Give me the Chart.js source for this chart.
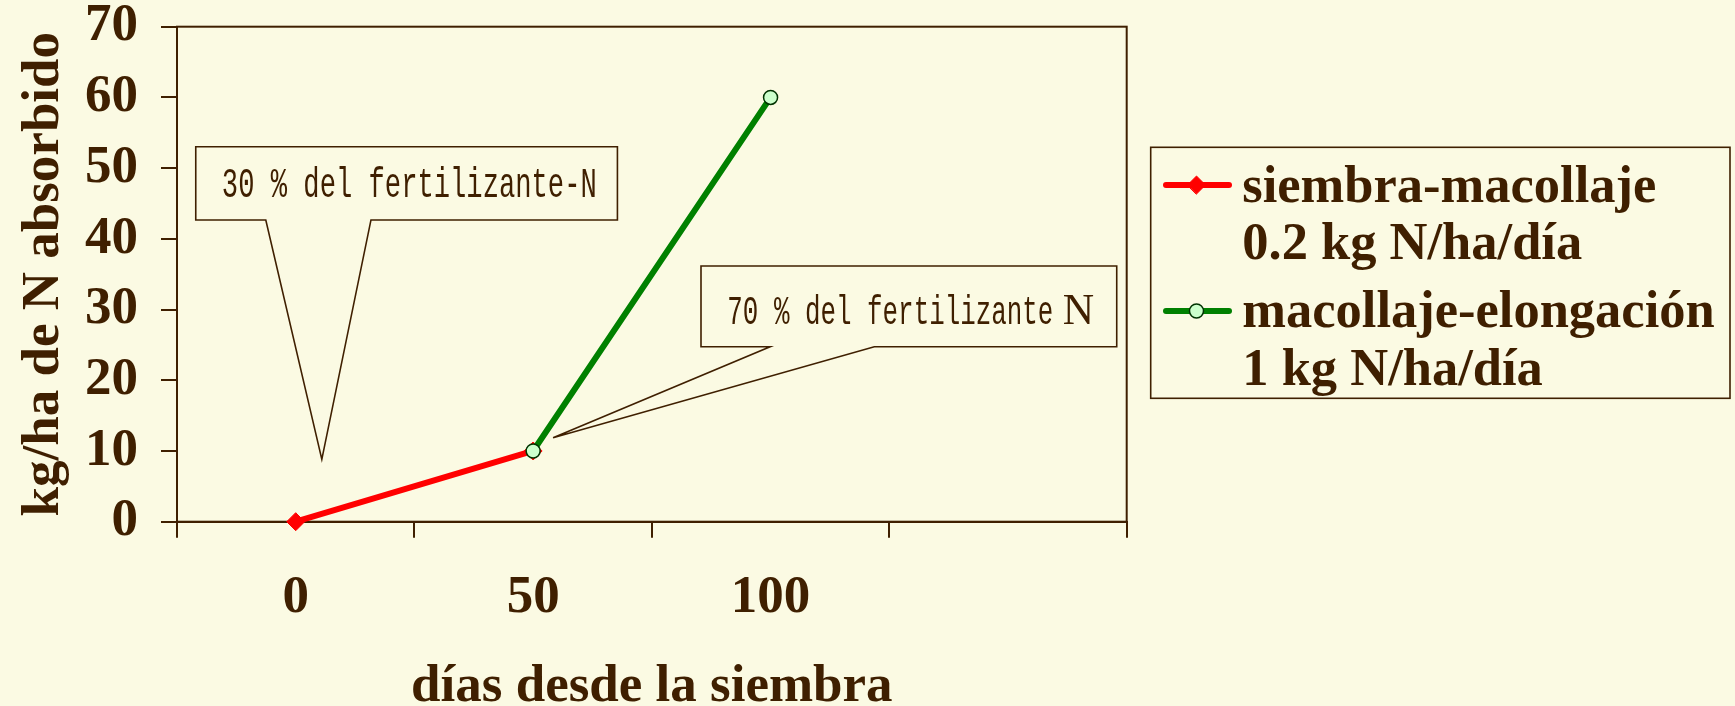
<!DOCTYPE html>
<html>
<head>
<meta charset="utf-8">
<script src="https://cdn.jsdelivr.net/npm/chart.js@4.4.0/dist/chart.umd.min.js"></script>
<style>
  html, body { margin: 0; padding: 0; background: #FBFAE3; }
  #wrap { width: 1735px; height: 706px; }
  canvas { display: block; }
</style>
</head>
<body>
<div id="wrap"><canvas id="c" width="1735" height="706"></canvas></div>
<script>
// Days since sowing (category axis; last slot is an empty interval)
const dias = ['0', '50', '100', ''];
// N uptake, kg/ha
const siembraMacollaje = [0, 10, null, null];
const macollajeElongacion = [null, 10, 60, null];
const yTicks = [0, 10, 20, 30, 40, 50, 60, 70];

const seriesLabels = [
  ['siembra-macollaje', '0.2 kg N/ha/día'],
  ['macollaje-elongación', '1 kg N/ha/día']
];
const callout30 = '30 % del fertilizante-N';
const callout70 = ['70 % del fertilizante', 'N'];
const xTitle = 'días desde la siembra';
const yTitle = 'kg/ha de N absorbido';

const BROWN = '#3F1F00';
const BG = '#FBFAE3';
const SERIF = '"Liberation Serif", "Times New Roman", serif';
const MONO = '"Liberation Mono", "Courier New", monospace';
const axisFont = { family: SERIF, size: 53, weight: 'bold', lineHeight: 1.2 };

function scaledText(ctx, text, x, y, font, sx) {
  ctx.save();
  ctx.font = font;
  ctx.translate(x, y);
  ctx.scale(sx, 1);
  ctx.fillText(text, 0, 0);
  ctx.restore();
}
function fittedText(ctx, text, x0, x1, y, font) {
  ctx.save();
  ctx.font = font;
  const w = ctx.measureText(text).width;
  ctx.restore();
  scaledText(ctx, text, x0, y, font, (x1 - x0) / w);
}

// Frame around the plotting area
const framePlugin = {
  id: 'frame',
  beforeDatasetsDraw(chart) {
    const { ctx, chartArea: a } = chart;
    ctx.save();
    ctx.strokeStyle = BROWN;
    ctx.lineWidth = 2;
    ctx.strokeRect(a.left, a.top, a.right - a.left, a.bottom - a.top);
    ctx.restore();
  }
};

// Speech-bubble callouts, placed in axis units
const calloutPlugin = {
  id: 'callouts',
  afterDatasetsDraw(chart) {
    const { ctx } = chart;
    const xs = chart.scales.x, ys = chart.scales.y;
    const p0 = xs.getPixelForValue(0), p1 = xs.getPixelForValue(1);
    const X = i => p0 + i * (p1 - p0);
    const Y = v => ys.getPixelForValue(v);

    function bubble(b) {
      ctx.save();
      ctx.beginPath();
      ctx.moveTo(X(b.x0), Y(b.y0));
      ctx.lineTo(X(b.x1), Y(b.y0));
      ctx.lineTo(X(b.x1), Y(b.y1));
      ctx.lineTo(X(b.base[1]), Y(b.y1));
      ctx.lineTo(X(b.tip[0]), Y(b.tip[1]));
      ctx.lineTo(X(b.base[0]), Y(b.y1));
      ctx.lineTo(X(b.x0), Y(b.y1));
      ctx.closePath();
      ctx.fillStyle = BG;
      ctx.fill();
      ctx.strokeStyle = BROWN;
      ctx.lineWidth = 1.6;
      ctx.lineJoin = 'miter';
      ctx.stroke();
      ctx.restore();
    }

    bubble({ x0: -0.421, x1: 1.355, y0: 53.03, y1: 42.67, base: [-0.126, 0.317], tip: [0.110, 8.82] });
    bubble({ x0: 1.707, x1: 3.458, y0: 36.16, y1: 24.75, base: [1.998, 2.437], tip: [1.084, 11.88] });

    ctx.save();
    ctx.fillStyle = BROWN;
    ctx.textBaseline = 'alphabetic';
    ctx.textAlign = 'left';
    fittedText(ctx, callout30, X(-0.311), X(1.268), Y(45.91), '42px ' + MONO);
    fittedText(ctx, callout70[0], X(1.818), X(3.191), Y(27.93), '40px ' + MONO);
    fittedText(ctx, callout70[1], X(3.231), X(3.363), Y(27.93), '45px ' + SERIF);
    ctx.restore();
  }
};

// Legend box to the right of the plot
const legendPlugin = {
  id: 'sideLegend',
  afterDraw(chart) {
    const { ctx } = chart;
    const box = { l: 1150.7, t: 147.3, r: 1730, b: 398.3 };
    ctx.save();
    ctx.strokeStyle = BROWN;
    ctx.lineWidth = 1.6;
    ctx.strokeRect(box.l, box.t, box.r - box.l, box.b - box.t);

    const rows = [
      { ds: chart.data.datasets[0], lineY: 185, baselines: [201.7, 259.3], r: 9 },
      { ds: chart.data.datasets[1], lineY: 311, baselines: [327.3, 385], r: 7 }
    ];
    rows.forEach((row, k) => {
      const ds = row.ds;
      ctx.beginPath();
      ctx.strokeStyle = ds.borderColor;
      ctx.lineWidth = ds.borderWidth;
      ctx.lineCap = 'round';
      ctx.moveTo(1166, row.lineY);
      ctx.lineTo(1229, row.lineY);
      ctx.stroke();
      ctx.fillStyle = ds.pointBackgroundColor;
      ctx.strokeStyle = ds.pointBorderColor;
      ctx.lineWidth = ds.pointBorderWidth;
      Chart.helpers.drawPoint(ctx, { pointStyle: ds.pointStyle, rotation: 0, borderWidth: ds.pointBorderWidth, radius: row.r }, 1196.5, row.lineY);
      ctx.fillStyle = BROWN;
      ctx.textAlign = 'left';
      ctx.textBaseline = 'alphabetic';
      seriesLabels[k].forEach((line, j) => {
        scaledText(ctx, line, 1242.3, row.baselines[j], 'bold 52.5px ' + SERIF, 1);
      });
    });
    ctx.restore();
  }
};

new Chart(document.getElementById('c'), {
  type: 'line',
  data: {
    labels: dias,
    datasets: [
      {
        label: seriesLabels[0].join(' '),
        data: siembraMacollaje,
        borderColor: '#FF0000',
        backgroundColor: '#FF0000',
        borderWidth: 6,
        pointStyle: 'rectRot',
        pointRadius: 9,
        pointBackgroundColor: '#FF0000',
        pointBorderColor: '#FF0000',
        pointBorderWidth: 1,
        spanGaps: false,
        clip: false,
        order: 1
      },
      {
        label: seriesLabels[1].join(' '),
        data: macollajeElongacion,
        borderColor: '#008000',
        backgroundColor: '#008000',
        borderWidth: 6,
        pointStyle: 'circle',
        pointRadius: 7,
        pointBackgroundColor: '#CCFFCC',
        pointBorderColor: '#003300',
        pointBorderWidth: 1.5,
        spanGaps: false,
        clip: false,
        order: 0
      }
    ]
  },
  options: {
    responsive: false,
    animation: false,
    devicePixelRatio: 1,
    layout: { padding: { top: 26.7, right: 608.3, bottom: 0, left: 0 } },
    plugins: {
      legend: { display: false },
      tooltip: { enabled: false },
      title: { display: false }
    },
    elements: { line: { tension: 0, borderCapStyle: 'round' } },
    scales: {
      x: {
        type: 'category',
        offset: true,
        grid: {
          offset: true,
          drawOnChartArea: false,
          drawTicks: true,
          tickLength: 16,
          color: BROWN,
          lineWidth: 2
        },
        border: { display: true, color: BROWN, width: 2 },
        ticks: { color: BROWN, font: axisFont, padding: 29, maxRotation: 0, autoSkip: false },
        title: {
          display: true,
          text: xTitle,
          color: BROWN,
          font: axisFont,
          padding: { top: 0, bottom: -13 }
        },
        afterFit(s) {
          s.height = 184.3;
          s.paddingLeft = 0; s.paddingRight = 0;
        }
      },
      y: {
        min: 0,
        max: 70,
        afterBuildTicks(s) { s.ticks = yTicks.map(v => ({ value: v })); },
        grid: {
          drawOnChartArea: false,
          drawTicks: true,
          tickLength: 16,
          color: BROWN,
          lineWidth: 2
        },
        border: { display: true, color: BROWN, width: 2 },
        ticks: { color: BROWN, font: axisFont, padding: 23 },
        title: {
          display: true,
          text: yTitle,
          color: BROWN,
          font: axisFont,
          padding: { top: 13, bottom: 0 }
        },
        afterFit(s) {
          s.width = 177;
          s.paddingTop = 0; s.paddingBottom = 0;
        }
      }
    }
  },
  plugins: [framePlugin, calloutPlugin, legendPlugin]
});
</script>
</body>
</html>
